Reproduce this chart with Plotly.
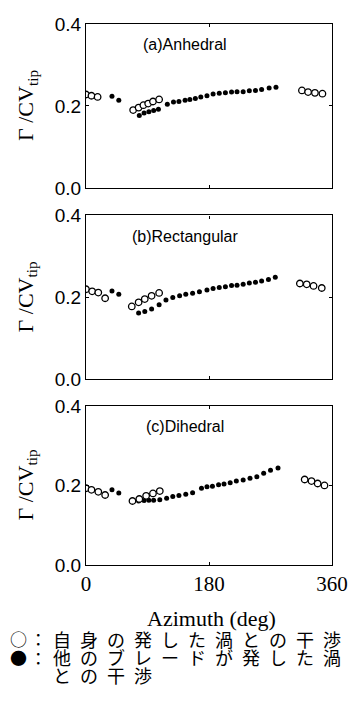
import plotly.graph_objects as go

# ---------------- data (azimuth in deg, Gamma/CVtip) ----------------
# (a) Anhedral
a_open_x = [0, 8, 17, 69, 77, 84, 91, 98, 107, 316, 325, 335, 346]
a_open_y = [0.228, 0.225, 0.222, 0.190, 0.196, 0.202, 0.206, 0.211, 0.216, 0.238, 0.234, 0.232, 0.230]
a_fill_x = [38, 48, 78, 85, 92, 99, 106, 119, 128, 136, 145, 152, 160, 168, 177, 186, 195, 204, 213, 221, 230, 239, 248, 257, 268, 278]
a_fill_y = [0.224, 0.214, 0.177, 0.183, 0.186, 0.189, 0.192, 0.204, 0.210, 0.211, 0.214, 0.216, 0.218, 0.222, 0.225, 0.229, 0.231, 0.232, 0.234, 0.235, 0.235, 0.237, 0.238, 0.240, 0.244, 0.246]

# (b) Rectangular
b_open_x = [0, 9, 18, 28, 67, 77, 86, 96, 107, 313, 323, 333, 345]
b_open_y = [0.220, 0.215, 0.212, 0.198, 0.178, 0.188, 0.196, 0.204, 0.211, 0.234, 0.232, 0.228, 0.223]
b_fill_x = [38, 48, 77, 86, 96, 107, 117, 127, 137, 146, 156, 166, 177, 186, 195, 204, 213, 221, 230, 239, 248, 257, 267, 277]
b_fill_y = [0.216, 0.208, 0.162, 0.166, 0.172, 0.182, 0.194, 0.200, 0.204, 0.208, 0.210, 0.214, 0.218, 0.222, 0.224, 0.226, 0.229, 0.230, 0.232, 0.235, 0.237, 0.240, 0.244, 0.249]

# (c) Dihedral
c_open_x = [0, 8, 18, 28, 68, 78, 88, 98, 108, 320, 330, 339, 349]
c_open_y = [0.193, 0.189, 0.184, 0.176, 0.161, 0.166, 0.174, 0.180, 0.186, 0.215, 0.211, 0.205, 0.200]
c_fill_x = [38, 48, 77, 85, 92, 99, 108, 118, 127, 136, 146, 156, 169, 177, 185, 194, 202, 211, 220, 230, 240, 250, 260, 270, 281]
c_fill_y = [0.189, 0.181, 0.161, 0.162, 0.163, 0.163, 0.164, 0.168, 0.172, 0.175, 0.178, 0.182, 0.193, 0.197, 0.198, 0.202, 0.204, 0.207, 0.211, 0.214, 0.218, 0.222, 0.231, 0.238, 0.244]

panel_titles = ["(a)Anhedral", "(b)Rectangular", "(c)Dihedral"]
x_ticks = [0, 180, 360]
y_ticks = [0.0, 0.2, 0.4]
y_tick_text = ["0.0", "0.2", "0.4"]

# ---------------- layout geometry (pixels) ----------------
# the page body adds an 8px offset, so the figure is drawn 8px smaller
OFF = 8
W, H = 361 - OFF, 706 - OFF
L, R, T, B = 86 - OFF, 29, 14 - OFF, 141
PW, PH = 246, 551
panels_px = [(14, 181), (209, 376), (403, 565)]   # in page pixels


def py(ypx):
    return (565 - ypx) / PH


def px(xpx):
    return (xpx - 86) / PW


fig = go.Figure()
series = [(a_open_x, a_open_y, a_fill_x, a_fill_y),
          (b_open_x, b_open_y, b_fill_x, b_fill_y),
          (c_open_x, c_open_y, c_fill_x, c_fill_y)]

sans = "Liberation Sans, Arial, sans-serif"
serif = "Liberation Serif, Times New Roman, serif"

for i, (ox, oy, fx, fy) in enumerate(series):
    n = "" if i == 0 else str(i + 1)
    fig.add_trace(go.Scatter(x=fx, y=fy, mode="markers", xaxis="x" + n, yaxis="y" + n,
                             marker=dict(size=5, color="black", line=dict(width=0)),
                             showlegend=False, hoverinfo="skip"))
    fig.add_trace(go.Scatter(x=ox, y=oy, mode="markers", xaxis="x" + n, yaxis="y" + n,
                             marker=dict(size=6.5, color="white", symbol="circle",
                                         line=dict(width=1.3, color="black")),
                             showlegend=False, hoverinfo="skip"))
    top, bot = panels_px[i]
    dom = [py(bot), py(top)]
    xa = dict(domain=[0, 1], range=[0, 360], tickvals=x_ticks,
              ticktext=[str(v) for v in x_ticks] if i == 2 else ["", "", ""],
              ticks="inside", ticklen=3, tickwidth=1, tickcolor="black",
              showline=True, linecolor="black", linewidth=1.2, mirror="ticks",
              showgrid=False, zeroline=False, anchor="y" + n,
              tickfont=dict(family=serif, size=21, color="black"))
    ya = dict(domain=dom, range=[0, 0.4], tickvals=y_ticks, ticktext=y_tick_text,
              ticks="inside", ticklen=3, tickwidth=1, tickcolor="black",
              showline=True, linecolor="black", linewidth=1.2, mirror="ticks",
              showgrid=False, zeroline=False, anchor="x" + n,
              tickfont=dict(family=sans, size=19, color="black"))
    fig.update_layout(**{"xaxis" + n: xa, "yaxis" + n: ya})

annotations = []
for i, (top, bot) in enumerate(panels_px):
    annotations.append(dict(text=panel_titles[i], x=px(185), y=py(top + 21), xref="paper", yref="paper",
                            xanchor="center", yanchor="middle", showarrow=False,
                            font=dict(family=sans, size=16, color="black")))
    annotations.append(dict(text="Γ /CV<sub>tip</sub>", x=px(27), y=py((top + bot) / 2),
                            xref="paper", yref="paper", textangle=-90,
                            xanchor="center", yanchor="middle", showarrow=False,
                            font=dict(family=serif, size=22, color="black")))

annotations.append(dict(text="Azimuth (deg)", x=px(211), y=py(619), xref="paper", yref="paper",
                        xanchor="center", yanchor="middle", showarrow=False,
                        font=dict(family=serif, size=22, color="black")))

jp = "Noto Sans CJK JP"
sp = "\u2002"
legend_lines = [("○", "自身の発した渦との干渉", 640),
                ("●", "他のブレードが発した渦", 659),
                ("", "との干渉", 677)]
for sym, txt, ypos in legend_lines:
    if sym:
        annotations.append(dict(text=sym + "\u2006：", x=px(8), y=py(ypos), xref="paper", yref="paper",
                                xanchor="left", yanchor="middle", showarrow=False,
                                font=dict(family=jp, size=17, color="black")))
    annotations.append(dict(text=sp.join(txt), x=px(51), y=py(ypos), xref="paper", yref="paper",
                            xanchor="left", yanchor="middle", showarrow=False,
                            font=dict(family=jp, size=18, color="black")))

fig.update_layout(width=W, height=H, margin=dict(l=L, r=R, t=T, b=B),
                  paper_bgcolor="white", plot_bgcolor="white",
                  annotations=annotations)

fig.write_html("out.html")
